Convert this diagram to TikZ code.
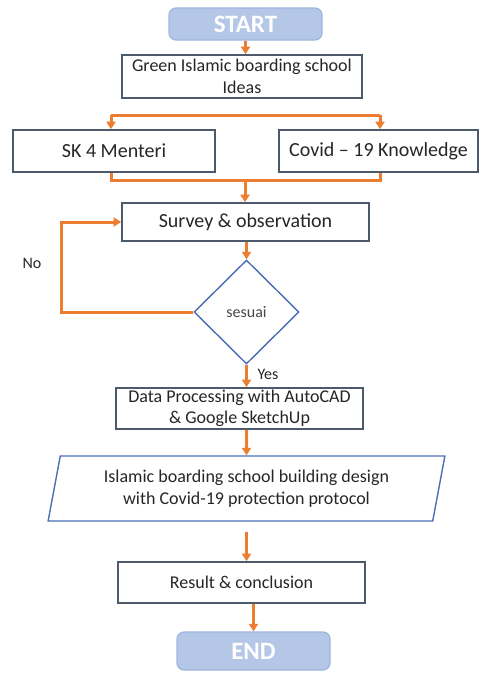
\documentclass[tikz,border=0pt]{standalone}
\usepackage{fontspec}
\setmainfont{Carlito}
\usetikzlibrary{shapes.geometric,arrows.meta}

\definecolor{floworange}{HTML}{ED7D31}
\definecolor{boxline}{HTML}{4D5A6B}
\definecolor{shapeblue}{HTML}{4A6FB5}
\definecolor{termfill}{HTML}{B4C7E7}
\definecolor{termline}{HTML}{9DB5DE}
\definecolor{txt}{HTML}{262626}

\begin{document}
\begin{tikzpicture}[
    x=1pt, y=-1pt,
    every node/.style={text=txt, inner sep=2pt},
    term/.style={rectangle, rounded corners=7pt, fill=termfill, draw=termline,
        line width=1.2pt, text=white, font=\fontsize{25}{25}\selectfont\bfseries,
        minimum width=153pt},
    proc/.style={rectangle, draw=boxline, line width=1.6pt, fill=white,
        align=center, minimum width=247pt},
    bigtext/.style={font=\fontsize{20}{24}\selectfont},
    midtext/.style={font=\fontsize{18}{21.5}\selectfont},
    flowline/.style={draw=floworange, line width=3pt},
    flow/.style={flowline, -{Triangle[width=9pt,length=7.5pt]}}
]
\useasboundingbox (0,0) rectangle (481,675);

% nodes
\node[term, minimum height=32pt] (start) at (245.5,24) {START};
\node[proc, midtext, minimum width=240pt, minimum height=43pt] (ideas) at (242,76.5)
    {Green Islamic boarding school\\Ideas};
\node[proc, bigtext, minimum width=202pt, minimum height=42pt] (sk) at (114,151) {SK 4 Menteri};
\node[proc, bigtext, minimum width=199pt, minimum height=42pt] (covid) at (378.5,151) {Covid -- 19 Knowledge};
\node[proc, bigtext, minimum height=38pt] (survey) at (245.5,222) {Survey \& observation};
\node[diamond, draw=shapeblue, line width=1.4pt, fill=white, minimum width=105pt,
    minimum height=104pt, inner sep=0pt, text=txt!85, font=\fontsize{16}{16}\selectfont]
    (check) at (246.5,312) {sesuai};
\node[proc, midtext, minimum height=41pt] (data) at (239.5,408.5)
    {Data Processing with AutoCAD\\\& Google SketchUp};
\node[trapezium, trapezium left angle=77, trapezium right angle=103, trapezium stretches=true,
    draw=shapeblue, line width=1.4pt, minimum width=398pt, minimum height=65pt,
    align=center, midtext] (design) at (246.5,488.5)
    {Islamic boarding school building design\\with Covid-19 protection protocol};
\node[proc, midtext, minimum height=41pt] (result) at (241.5,582.5) {Result \& conclusion};
\node[term, minimum height=38pt] (finish) at (253.5,651) {END};

\node[font=\fontsize{16}{16}\selectfont] (no) at (32,263) {No};
\node[font=\fontsize{16}{16}\selectfont] (yes) at (268,374) {Yes};

% split and merge points
\coordinate (split-l) at (111,115);
\coordinate (split-r) at (380,115);
\coordinate (merge-l) at (111,180);
\coordinate (merge-r) at (380,180);
\coordinate (merge-m) at (245,180);
\coordinate (loop) at (61,0);

% connectors
\draw[flow] (start.south) -- (start.south |- ideas.north);
\draw[flowline] (split-l) -- (split-r);
\draw[flow] (split-l) -- (split-l |- sk.north);
\draw[flow] (split-r) -- (split-r |- covid.north);
\draw[flowline] (sk.south -| merge-l) -- (merge-l) -- (merge-r) -- (covid.south -| merge-r);
\draw[flow] (merge-m) -- (merge-m |- survey.north);
\draw[flow] (survey.south -| check) -- (check.north);
\draw[flow] (check.west) -- (check.west -| loop) -- (survey.west -| loop) -- (survey.west);
\draw[flow] (check.south) -- (check.south |- data.north);
\draw[flow] (data.south -| design) -- (design.north);
\draw[flow] ([yshift=-10pt]design.south) -- (design.south |- result.north);
\draw[flow] (finish.north |- result.south) -- (finish.north);

\end{tikzpicture}
\end{document}
